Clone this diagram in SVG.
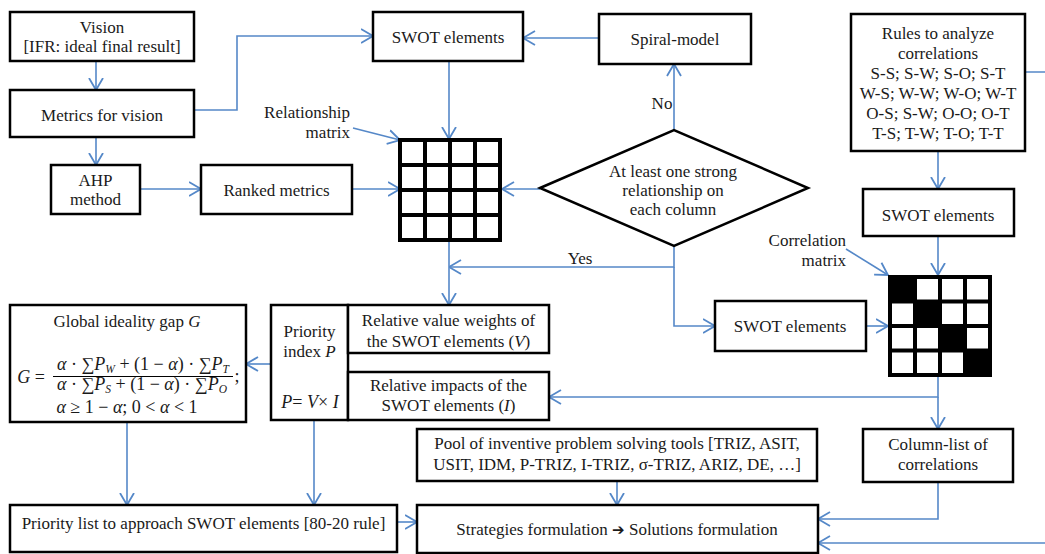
<svg xmlns="http://www.w3.org/2000/svg" width="1045" height="554" viewBox="0 0 1045 554">
<style>
.box{fill:#fff;stroke:#000;stroke-width:2.5}
.t{font-family:"Liberation Serif","Times New Roman",serif;font-size:17px;fill:#1a1a1a;text-anchor:middle}
.m{font-size:18px}
.e{text-anchor:end}
.i{font-style:italic}
.c{fill:none;stroke:#5588c8;stroke-width:1.6}
.g{stroke:#000;stroke-width:4}
</style>
<defs>
<marker id="a" viewBox="0 0 13 16" refX="12.5" refY="8" markerWidth="13" markerHeight="16" markerUnits="userSpaceOnUse" orient="auto">
<path d="M0.5,1 L12.5,8 L0.5,15" fill="none" stroke="#5588c8" stroke-width="1.8"/>
</marker>
</defs>
<rect width="1045" height="554" fill="#fff"/>

<g id="connectors">
<path class="c" d="M96,61 V90" marker-end="url(#a)"/>
<path class="c" d="M96,137 V165" marker-end="url(#a)"/>
<path class="c" d="M140,189 H201" marker-end="url(#a)"/>
<path class="c" d="M194,110 H237 V36 H373" marker-end="url(#a)"/>
<path class="c" d="M599,38 H523" marker-end="url(#a)"/>
<path class="c" d="M449,61 V139" marker-end="url(#a)"/>
<path class="c" d="M353,128 L400,140" marker-end="url(#a)"/>
<path class="c" d="M352,189 H400" marker-end="url(#a)"/>
<path class="c" d="M540,189 H502" marker-end="url(#a)"/>
<path class="c" d="M674,130 V64" marker-end="url(#a)"/>
<path class="c" d="M674,246 V267 H449" marker-end="url(#a)"/>
<path class="c" d="M674,267 V326 H715" marker-end="url(#a)"/>
<path class="c" d="M449,241 V305" marker-end="url(#a)"/>
<path class="c" d="M938,151 V189" marker-end="url(#a)"/>
<path class="c" d="M938,236 V275" marker-end="url(#a)"/>
<path class="c" d="M846,249 L888,275" marker-end="url(#a)"/>
<path class="c" d="M866,326 H888" marker-end="url(#a)"/>
<path class="c" d="M938,377 V397 H549" marker-end="url(#a)"/>
<path class="c" d="M938,397 V429" marker-end="url(#a)"/>
<path class="c" d="M271,364 H246" marker-end="url(#a)"/>
<path class="c" d="M127,422 V505" marker-end="url(#a)"/>
<path class="c" d="M314,420 V505" marker-end="url(#a)"/>
<path class="c" d="M397,522 H417" marker-end="url(#a)"/>
<path class="c" d="M617,481 V505" marker-end="url(#a)"/>
<path class="c" d="M938,482 V519 H818" marker-end="url(#a)"/>
<path class="c" d="M1025,72 H1052 V543 H818" marker-end="url(#a)"/>
<text class="t" x="662" y="109">No</text>
<text class="t" x="580" y="264">Yes</text>
</g>

<g id="vision">
<rect class="box" x="10" y="12" width="184" height="49"/>
<text class="t" x="102" y="33">Vision</text>
<text class="t" x="102" y="52">[IFR: ideal final result]</text>
</g>
<g id="metrics">
<rect class="box" x="10" y="90" width="184" height="47"/>
<text class="t" x="102" y="121">Metrics for vision</text>
</g>
<g id="ahp">
<rect class="box" x="51" y="165" width="89" height="49"/>
<text class="t" x="95.5" y="186">AHP</text>
<text class="t" x="95.5" y="205">method</text>
</g>
<g id="ranked">
<rect class="box" x="201" y="165" width="151" height="49"/>
<text class="t" x="276.5" y="196">Ranked metrics</text>
</g>
<g id="relationship-label">
<text class="t e" x="350" y="118">Relationship</text>
<text class="t e" x="350" y="138">matrix</text>
</g>
<g id="swot-top">
<rect class="box" x="373" y="12" width="150" height="49"/>
<text class="t" x="448" y="43">SWOT elements</text>
</g>
<g id="spiral">
<rect class="box" x="599" y="14" width="152" height="50"/>
<text class="t" x="675" y="45">Spiral-model</text>
</g>
<g id="relationship-matrix">
<rect x="400" y="140" width="100" height="100" fill="#fff" class="g"/>
<path class="g" d="M425,140 V240 M450,140 V240 M475,140 V240 M400,165 H500 M400,190 H500 M400,215 H500"/>
</g>
<g id="decision">
<polygon class="box" points="540,188 674,130 808,188 674,246"/>
<text class="t" x="673" y="177">At least one strong</text>
<text class="t" x="673" y="196">relationship on</text>
<text class="t" x="673" y="215">each column</text>
</g>
<g id="rules">
<rect class="box" x="851" y="14" width="174" height="137"/>
<text class="t" x="938" y="39">Rules to analyze</text>
<text class="t" x="938" y="59">correlations</text>
<text class="t" x="938" y="79">S-S; S-W; S-O; S-T</text>
<text class="t" x="938" y="99">W-S; W-W; W-O; W-T</text>
<text class="t" x="938" y="119">O-S; S-W; O-O; O-T</text>
<text class="t" x="938" y="139">T-S; T-W; T-O; T-T</text>
</g>
<g id="swot-right">
<rect class="box" x="863" y="189" width="151" height="47"/>
<text class="t" x="938" y="221">SWOT elements</text>
</g>
<g id="correlation-label">
<text class="t e" x="846" y="246">Correlation</text>
<text class="t e" x="846" y="266">matrix</text>
</g>
<g id="correlation-matrix">
<rect x="888" y="275" width="104" height="102" fill="#000"/>
<g fill="#fff">
<rect x="917" y="279" width="21" height="20.5"/><rect x="942" y="279" width="21" height="20.5"/><rect x="967" y="279" width="21" height="20.5"/>
<rect x="892" y="303.5" width="21" height="20.5"/><rect x="942" y="303.5" width="21" height="20.5"/><rect x="967" y="303.5" width="21" height="20.5"/>
<rect x="892" y="328" width="21" height="20.5"/><rect x="917" y="328" width="21" height="20.5"/><rect x="967" y="328" width="21" height="20.5"/>
<rect x="892" y="352.5" width="21" height="20.5"/><rect x="917" y="352.5" width="21" height="20.5"/><rect x="942" y="352.5" width="21" height="20.5"/>
</g>
</g>
<g id="swot-mid">
<rect class="box" x="715" y="301" width="151" height="50"/>
<text class="t" x="790" y="332">SWOT elements</text>
</g>
<g id="global-gap">
<rect class="box" x="10" y="305" width="236" height="117"/>
<text class="t" x="127" y="327">Global ideality gap <tspan class="i">G</tspan></text>
<text class="t m" x="31" y="383"><tspan class="i">G</tspan> =</text>
<line x1="53" y1="376.5" x2="233" y2="376.5" stroke="#000" stroke-width="1"/>
<text class="t m" x="143" y="370"><tspan class="i">α</tspan> · ∑<tspan class="i">P</tspan><tspan font-size="11.5" dy="3" class="i">W</tspan><tspan dy="-3"> + (1 − </tspan><tspan class="i">α</tspan>) · ∑<tspan class="i">P</tspan><tspan font-size="11.5" dy="3" class="i">T</tspan></text>
<text class="t m" x="142" y="390"><tspan class="i">α</tspan> · ∑<tspan class="i">P</tspan><tspan font-size="11.5" dy="3" class="i">S</tspan><tspan dy="-3"> + (1 − </tspan><tspan class="i">α</tspan>) · ∑<tspan class="i">P</tspan><tspan font-size="11.5" dy="3" class="i">O</tspan></text>
<text class="t m" x="237" y="382">;</text>
<text class="t m" x="127" y="413"><tspan class="i">α</tspan> ≥ 1 − <tspan class="i">α</tspan>; 0 &lt; <tspan class="i">α</tspan> &lt; 1</text>
</g>
<g id="priority-index">
<rect class="box" x="271" y="305" width="77" height="115"/>
<text class="t" x="309.5" y="337">Priority</text>
<text class="t" x="309.5" y="357">index <tspan class="i">P</tspan></text>
<text class="t m" x="310" y="408"><tspan class="i">P</tspan>= <tspan class="i">V</tspan>× <tspan class="i">I</tspan></text>
</g>
<g id="value-weights">
<rect class="box" x="348" y="305" width="201" height="48"/>
<text class="t" x="448.5" y="326">Relative value weights of</text>
<text class="t" x="448.5" y="347">the SWOT elements (<tspan class="i">V</tspan>)</text>
</g>
<g id="impacts">
<rect class="box" x="348" y="372" width="201" height="48"/>
<text class="t" x="448.5" y="391">Relative impacts of the</text>
<text class="t" x="448.5" y="411">SWOT elements (<tspan class="i">I</tspan>)</text>
</g>
<g id="pool">
<rect class="box" x="417" y="429" width="400" height="52"/>
<text class="t" x="617" y="449">Pool of inventive problem solving tools [TRIZ, ASIT,</text>
<text class="t" x="617" y="470">USIT, IDM, P-TRIZ, I-TRIZ, σ-TRIZ, ARIZ, DE, …]</text>
</g>
<g id="column-list">
<rect class="box" x="863" y="429" width="150" height="53"/>
<text class="t" x="938" y="450">Column-list of</text>
<text class="t" x="938" y="470">correlations</text>
</g>
<g id="priority-list">
<rect class="box" x="10" y="505" width="387" height="47"/>
<text class="t" x="203.5" y="529">Priority list to approach SWOT elements [80-20 rule]</text>
</g>
<g id="strategies">
<rect class="box" x="417" y="505" width="401" height="48"/>
<text class="t" x="617" y="535">Strategies formulation <tspan font-family="'DejaVu Sans',sans-serif" font-size="15">➔</tspan> Solutions formulation</text>
</g>
</svg>
